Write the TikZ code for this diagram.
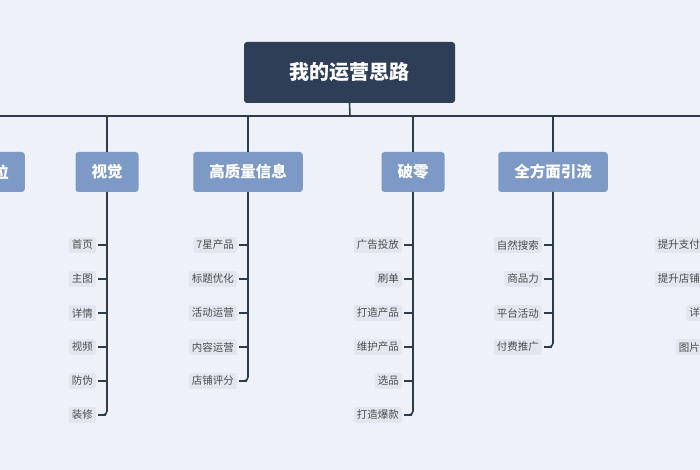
\documentclass[tikz,border=0pt]{standalone}
\usepackage{fontspec}
\setmainfont{Noto Sans CJK SC}
\usetikzlibrary{positioning}
\definecolor{bgcol}{HTML}{EEF2F8}
\definecolor{rootcol}{HTML}{2F3E57}
\definecolor{catcol}{HTML}{7D9AC6}
\definecolor{leafcol}{HTML}{E2E7EF}
\definecolor{linecol}{HTML}{2F3A4C}
\tikzset{
  rootbox/.style={fill=rootcol, text=white, rounded corners=3pt, minimum width=211pt, minimum height=61pt, font=\bfseries\fontsize{20}{20}\selectfont},
  catbox/.style={fill=catcol, text=white, rounded corners=3pt, minimum height=40pt, inner xsep=16pt, font=\bfseries\fontsize{15.5}{15.5}\selectfont},
  leaf/.style={fill=leafcol, text=black!70, rounded corners=2pt, inner xsep=3pt, inner ysep=3pt, font=\fontsize{10.5}{10.5}\selectfont, anchor=east},
  link/.style={linecol, line width=1.6pt, rounded corners=4pt},
  tick/.style={linecol, line width=1.2pt}
}
\begin{document}
\begin{tikzpicture}[x=1pt, y=-1pt]
    \useasboundingbox[fill=bgcol] (0,0) rectangle (700,470);
    \clip (0,0) rectangle (700,470);
    % root and main bar
    \node (root) [rootbox] at (349.5,72.5) {我的运营思路};
    \draw[link] (root.south) -- (350,116);
    \draw[link] (-20,116) -- (760,116);
    % categories
    \node (dw) [catbox, anchor=east] at (25,172) {定位};
    \node (sj) [catbox] at (107,172) {视觉};
    \node (gz) [catbox] at (248,172) {高质量信息};
    \node (pl) [catbox] at (413,172) {破零};
    \node (qf) [catbox] at (553,172) {全方面引流};
    \foreach \c/\x in {sj/107, gz/248, pl/413, qf/553, dw/-15}
        \draw[link] (\x,116) -- (\x,152);
    % leaves of each branch
    \foreach \br/\x/\list in {sj/107/{首页,主图,详情,视频,防伪,装修},
        gz/248/{7星产品,标题优化,活动运营,内容运营,店铺评分},
        pl/413/{广告投放,刷单,打造产品,维护产品,选品,打造爆款},
        qf/553/{自然搜索,商品力,平台活动,付费推广},
        ts/735/{提升支付转化,提升店铺评分,详情页,图片细节}} {
        \foreach \t [count=\i] in \list {
            \node (\br-\i) [leaf] at ({\x-11},{211+34*\i}) {\t};
            \draw[tick] (\br-\i.east) ++(2,0) -- ({\x-1},{211+34*\i});
            \xdef\lastrow{\i}
        }
        \draw[link] (\x,192) -- (\x,{211+34*\lastrow}) -- ({\x-7},{211+34*\lastrow});
    }
\end{tikzpicture}
\end{document}
